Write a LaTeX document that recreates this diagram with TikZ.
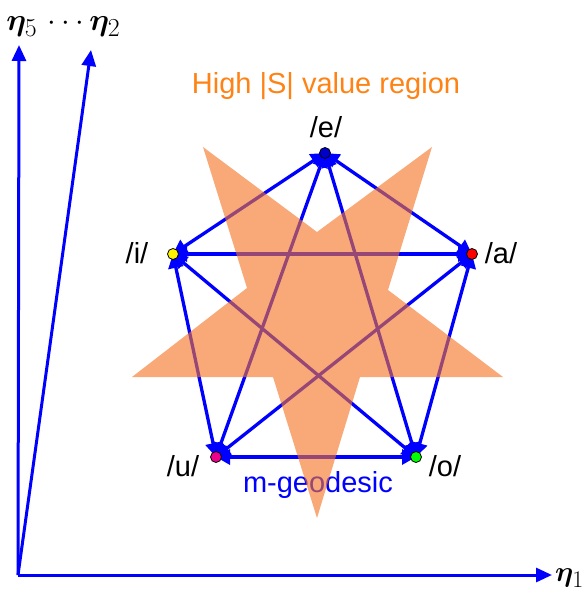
\documentclass[tikz,border=0pt]{standalone}
\usepackage{fontspec}
\usepackage{amsmath}
\usepackage{bm}
\setmainfont{Liberation Sans}
\usetikzlibrary{arrows.meta}
\definecolor{starorange}{RGB}{245,115,35}
\definecolor{headorange}{RGB}{255,130,20}
\definecolor{vblue}{RGB}{0,0,255}
\tikzset{
  axis/.style={draw=vblue, line width=3pt, -{Triangle[length=16pt,width=14pt]}},
  edge/.style={draw=vblue, line width=3.3pt, {Triangle[length=14pt,width=15pt]}-{Triangle[length=14pt,width=15pt]}},
  vdot/.style={circle, draw=black, line width=0.8pt, minimum size=11pt, inner sep=0pt},
  vlabel/.style={font=\fontsize{29}{34}\selectfont, text=black},
  etalabel/.style={scale=1.25, inner sep=0pt},
}
\begin{document}
\begin{tikzpicture}[x=1pt,y=-1pt]
\useasboundingbox (0,0) rectangle (582,595);
% axes
\coordinate (O) at (18,575);
\coordinate (Y) at (19,45);
\coordinate (D) at (91,50);
\coordinate (X) at (552,575);
\draw[axis] (O) -- (Y);
\draw[axis] (O) -- (D);
\draw[axis] (O) -- (X);
\node[etalabel, anchor=west] (etatop) at (6,27) {\fontsize{24.88}{30}\selectfont$\bm{\eta}_5\,\cdots\bm{\eta}_2$};
\node[etalabel, anchor=west, scale=0.92] (etaone) at (555,578) {\fontsize{24.88}{30}\selectfont$\bm{\eta}_1$};
% vertices
\coordinate (e) at (325,153);
\coordinate (i) at (173,254);
\coordinate (a) at (472,254);
\coordinate (u) at (216,457);
\coordinate (o) at (416,457);
% edges
\draw[edge] (e) -- (i);
\draw[edge] (e) -- (a);
\draw[edge] (e) -- (u);
\draw[edge] (e) -- (o);
\draw[edge] (i) -- (a);
\draw[edge] (i) -- (u);
\draw[edge] (i) -- (o);
\draw[edge] (a) -- (u);
\draw[edge] (a) -- (o);
\draw[edge] (u) -- (o);
% dots
\node[vdot, fill=blue!80!black] (ed) at (e) {};
\node[vdot, fill=yellow] (id) at (i) {};
\node[vdot, fill=red] (ad) at (a) {};
\node[vdot, fill=magenta] (ud) at (u) {};
\node[vdot, fill=green] (od) at (o) {};
% labels
\node[vlabel] (el) at (326,127) {/e/};
\node[vlabel] (il) at (137,253) {/i/};
\node[vlabel] (al) at (501,253) {/a/};
\node[vlabel] (ul) at (183,466) {/u/};
\node[vlabel] (ol) at (445,466) {/o/};
\node[vlabel, text=vblue] (mg) at (318,485) {m-geodesic};
% star
\fill[starorange, opacity=0.62]
  (203,147) -- (317,232) -- (432,147) -- (388,290) -- (503,377)
  -- (360,377) -- (317,518) -- (273,377) -- (132,377) -- (247,288) -- cycle;
% title
\node[vlabel, text=headorange] (title) at (326,86) {High |S| value region};
\end{tikzpicture}
\end{document}
